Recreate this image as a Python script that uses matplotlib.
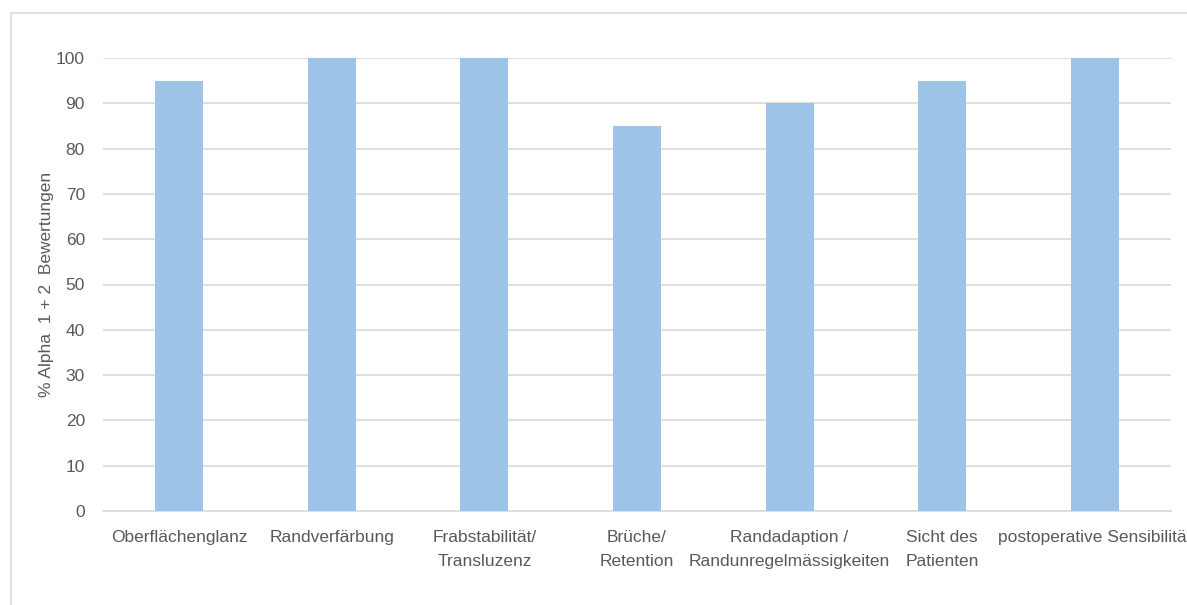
import matplotlib
matplotlib.use("Agg")
import matplotlib.pyplot as plt
from matplotlib.patches import Rectangle

categories = [
    "Oberflächenglanz",
    "Randverfärbung",
    "Frabstabilität/\nTransluzenz",
    "Brüche/\nRetention",
    "Randadaption /\nRandunregelmässigkeiten",
    "Sicht des\nPatienten",
    "postoperative Sensibilität",
]
values = [95, 100, 100, 85, 90, 95, 100]
y_ticks = [0, 10, 20, 30, 40, 50, 60, 70, 80, 90, 100]
y_label = "% Alpha  1 + 2  Bewertungen"

BAR = "#9DC3E6"
GRID = "#D9D9D9"
TEXT = "#595959"
FS = 12.5

plt.rcParams["font.family"] = ["Liberation Sans", "DejaVu Sans"]

W, H = 1187, 605
fig = plt.figure(figsize=(W / 100, H / 100), dpi=100)
fig.patch.set_facecolor("white")

# chart area frame, running off the right and bottom edges
fig.patches.append(Rectangle((10.5 / W, -0.5), 2.0, 0.5 + 1 - 12.5 / H,
                             transform=fig.transFigure, fill=False,
                             edgecolor=GRID, linewidth=1.2, zorder=0))

ax = fig.add_axes([103 / W, 1 - 511 / H, (1171 - 103) / W, (511 - 58) / H])
x = range(len(categories))
ax.bar(x, values, width=0.315, color=BAR, zorder=3)
ax.set_xlim(-0.5, len(categories) - 0.5)
ax.set_ylim(0, 100)
ax.set_yticks(y_ticks)
ax.set_xticks(list(x))
ax.set_xticklabels(categories, multialignment="center", linespacing=1.7)
ax.grid(axis="y", color=GRID, linewidth=1.2, zorder=0)
for s in ["top", "right", "left"]:
    ax.spines[s].set_visible(False)
ax.spines["bottom"].set_color(GRID)
ax.spines["bottom"].set_linewidth(1.2)
ax.tick_params(axis="both", length=0, colors=TEXT, labelsize=FS)
ax.tick_params(axis="y", pad=13)
ax.tick_params(axis="x", pad=14)

fig.text(47 / W, 1 - 284 / H, y_label, rotation=90, ha="center", va="center",
         color=TEXT, fontsize=FS)

fig.savefig("out.png", dpi=100)
